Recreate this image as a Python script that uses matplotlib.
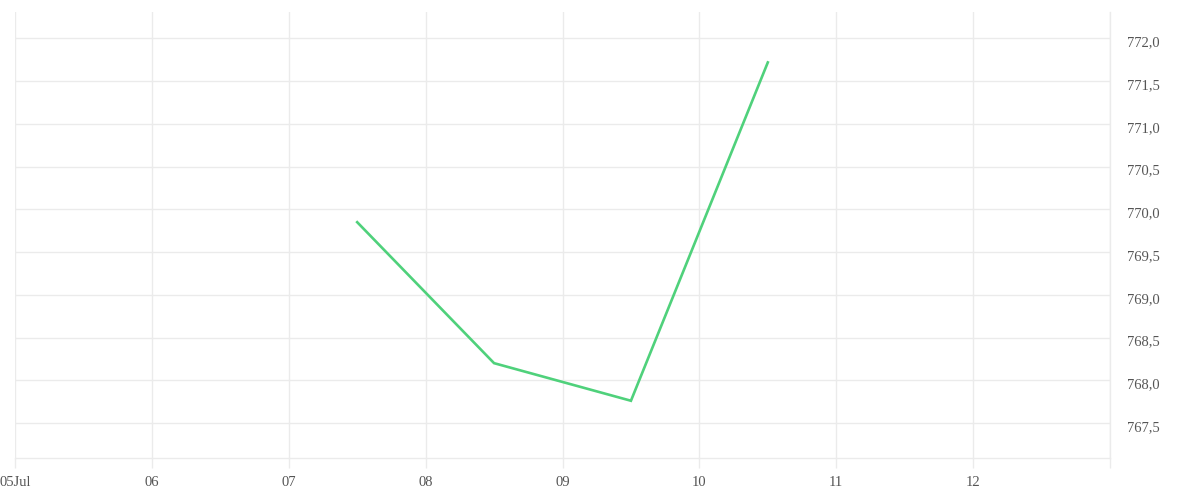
import matplotlib
matplotlib.use('Agg')
import matplotlib.pyplot as plt
import matplotlib.dates as mdates
import matplotlib.transforms as mtransforms
from matplotlib.ticker import FuncFormatter, FixedLocator
from datetime import datetime

# values
dates = [datetime(2024, 7, 7, 12), datetime(2024, 7, 8, 12),
         datetime(2024, 7, 9, 12), datetime(2024, 7, 10, 12)]
prices = [769.85, 768.20, 767.76, 771.72]

tick_days = [datetime(2024, 7, d) for d in range(5, 14)]
tick_labels = ['05Jul', '06', '07', '08', '09', '10', '11', '12', '']
y_ticks = [767.5, 768.0, 768.5, 769.0, 769.5, 770.0, 770.5, 771.0, 771.5, 772.0]

grid_col = '#ebebeb'
text_col = '#555555'
line_col = '#4fd17b'

plt.rcParams['font.family'] = ['Liberation Serif', 'DejaVu Serif']

fig = plt.figure(figsize=(12, 5), dpi=100)
ax = fig.add_axes([15 / 1200, 1 - 458 / 500, 1095 / 1200, 446 / 500])

ax.plot(dates, prices, color=line_col, linewidth=1.9, solid_joinstyle='miter')

ax.set_xlim(tick_days[0], tick_days[-1])
ax.set_ylim(767.09, 772.31)

ax.xaxis.set_major_locator(FixedLocator(mdates.date2num(tick_days)))
ax.set_xticklabels(tick_labels)
ax.yaxis.set_major_locator(FixedLocator(y_ticks))
ax.yaxis.set_major_formatter(FuncFormatter(lambda v, p: f'{v:.1f}'.replace('.', ',')))
ax.yaxis.tick_right()

ax.grid(True, color=grid_col, linewidth=1)
ax.set_axisbelow(True)
for side in ['top', 'left', 'right']:
    ax.spines[side].set_visible(False)
ax.spines['bottom'].set_color(grid_col)
ax.spines['bottom'].set_linewidth(1)

ax.tick_params(axis='x', length=7, width=1, color=grid_col, pad=6,
               labelsize=10.5, labelcolor=text_col)
ax.tick_params(axis='y', length=0, pad=12, labelsize=10.5, labelcolor=text_col)

# labels sit a little below their gridlines in the reference
shift = mtransforms.ScaledTranslation(0, -3 / 100, fig.dpi_scale_trans)
for lbl in ax.get_yticklabels():
    lbl.set_transform(lbl.get_transform() + shift)

# thin line on the right edge like the reference
ax.axvline(mdates.date2num(tick_days[-1]), color=grid_col, linewidth=1, clip_on=False)

fig.savefig('out.png', dpi=100, facecolor='white')
